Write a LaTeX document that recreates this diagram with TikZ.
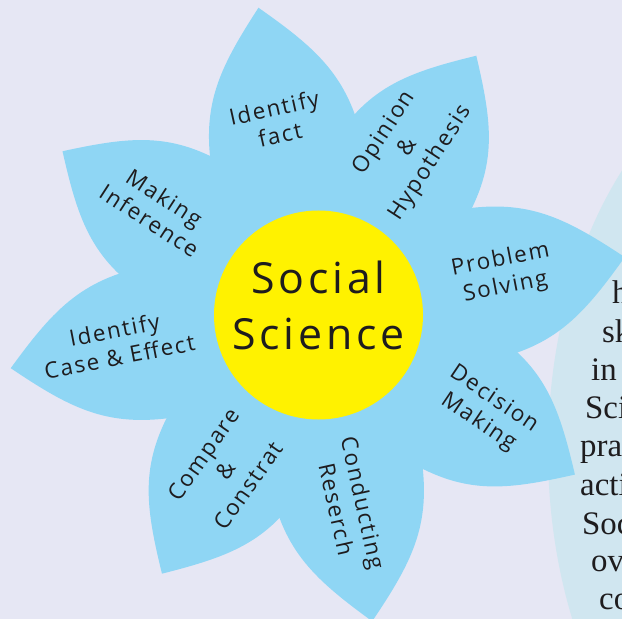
\documentclass[tikz,border=0pt]{standalone}
\usepackage{fontspec}
\newfontfamily\petalfont[LetterSpace=8]{Open Sans}
\newfontfamily\titlefont[LetterSpace=9]{Open Sans}
\newfontfamily\notefont{Liberation Serif}
\definecolor{bgcol}{RGB}{230,231,244}
\definecolor{petalblue}{RGB}{143,214,244}
\definecolor{sunyellow}{RGB}{255,242,0}
\definecolor{notebg}{RGB}{208,230,240}
\definecolor{inkdark}{RGB}{30,28,30}
\tikzset{
  petal/.pic={
    \fill[petalblue] (0,0) .. controls (40,60) and (100,77) .. (150,77)
      .. controls (225,77) and (258,52) .. (312,0)
      .. controls (258,-52) and (225,-77) .. (150,-77)
      .. controls (100,-77) and (40,-60) .. (0,0) -- cycle;
  },
  petallabel/.style={font=\petalfont\fontsize{22.5}{27.5}\selectfont,
    text=inkdark, align=center, inner sep=0pt},
  titlelabel/.style={font=\titlefont\fontsize{43}{57}\selectfont,
    text=inkdark, align=center, inner sep=0pt},
  noteline/.style={font=\notefont\fontsize{33}{38}\selectfont,
    text=inkdark, anchor=base west, inner sep=0pt},
}
\begin{document}
\begin{tikzpicture}[x=1bp, y=-1bp]
  % canvas
  \fill[bgcol] (0,0) rectangle (622,619);
  \useasboundingbox (0,0) rectangle (622,619);

  % text bubble on the right
  \fill[notebg] (808,450) ellipse [x radius=260, y radius=400];
  \node[noteline] (n1) at (612,303) {h};
  \node[noteline] (n2) at (602,342) {sk};
  \node[noteline] (n3) at (591,380) {in};
  \node[noteline] (n4) at (585,418) {Sci};
  \node[noteline] (n5) at (580,456) {pra};
  \node[noteline] (n6) at (580,495) {acti};
  \node[noteline] (n7) at (582,534) {Soc};
  \node[noteline] (n8) at (591,571) {ove};
  \node[noteline] (n9) at (599,609) {co};

  % eight petals
  \foreach \a/\s [count=\i] in {101/1, 58.5/0.971, 10.5/1, -32/0.971,
                                -80/1, -121/0.971, -170/1, 147.5/0.971}
    \pic[rotate=\a, xscale=\s] (petal\i) at (318,314) {petal};

  % centre disc
  \node[circle, fill=sunyellow, minimum size=209bp, inner sep=0pt] (hub) at (318.5,315) {};
  \node[titlelabel] (title) at (318.5,305.5) {Social\\Science};

  % petal labels
  \node[petallabel, rotate=12.5] (fact) at (277,121) {Identify\\fact};
  \node[petallabel, rotate=57] (opinion) at (408,148) {Opinion\\\&\\Hypothesis};
  \node[petallabel, rotate=11] (problem) at (503,274) {Problem\\Solving};
  \node[petallabel, rotate=-34] (decision) at (486,411) {Decision\\Making};
  \node[petallabel, rotate=-77.5] (research) at (350,506) {Conducting\\Reserch};
  \node[petallabel, rotate=55] (compare) at (226,470) {Compare\\\&\\Constrat};
  \node[petallabel, rotate=11] (cause) at (117,343) {Identify\\Case \& Effect};
  \node[petallabel, rotate=-33] (inference) at (157,209) {Making\\Inference};
\end{tikzpicture}
\end{document}
